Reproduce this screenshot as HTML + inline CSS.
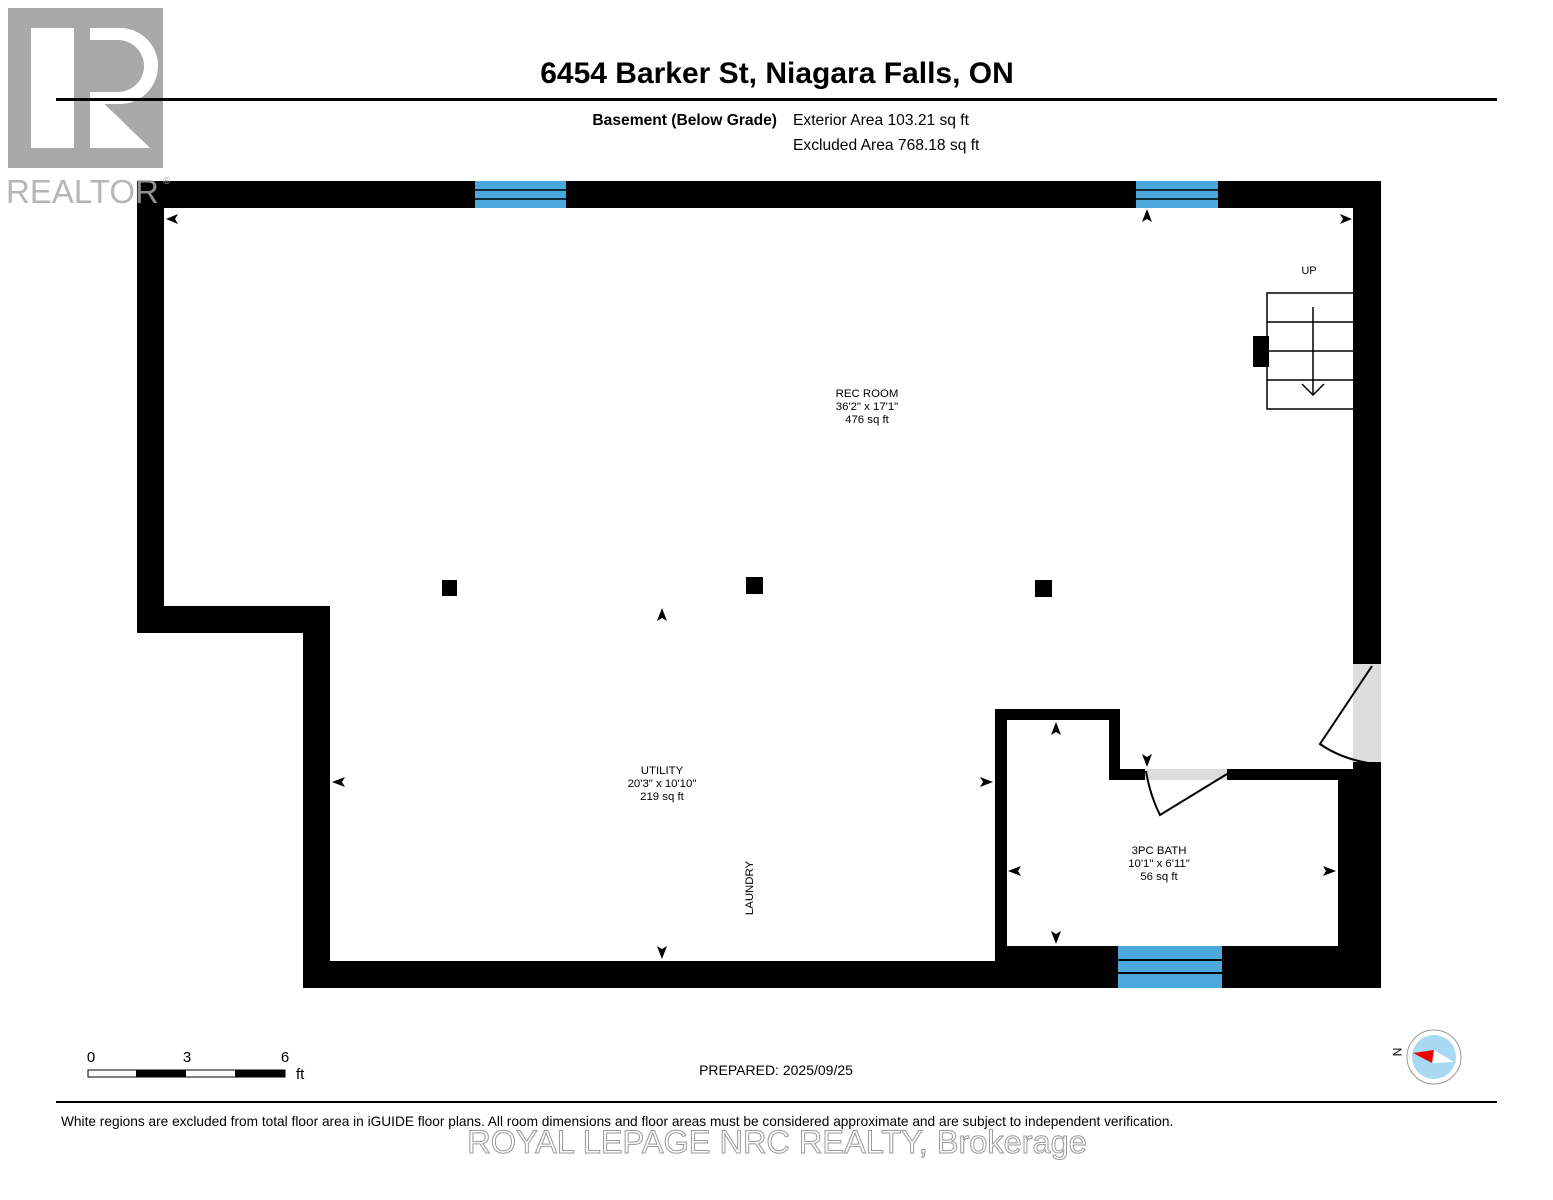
<!DOCTYPE html>
<html><head><meta charset="utf-8"><style>
html,body{margin:0;padding:0;background:#fff;}
svg{display:block;font-family:"Liberation Sans",Arial,sans-serif;}
</style></head><body>
<svg width="1553" height="1200" viewBox="0 0 1553 1200" xmlns="http://www.w3.org/2000/svg">
<rect width="1553" height="1200" fill="#fff"/>
<!-- Header -->
<text x="777" y="83" font-size="30" font-weight="bold" text-anchor="middle" fill="#000">6454 Barker St, Niagara Falls, ON</text>
<text x="777" y="125" font-size="15.6" font-weight="bold" text-anchor="end" fill="#000">Basement (Below Grade)</text>
<text x="793" y="125" font-size="15.6" fill="#000">Exterior Area 103.21 sq ft</text>
<text x="793" y="150" font-size="15.6" fill="#000">Excluded Area 768.18 sq ft</text>
<!-- walls -->
<g fill="#000">
<rect x="137" y="181" width="1244" height="27"/>
<rect x="137" y="181" width="27" height="452"/>
<rect x="137" y="606" width="193" height="27"/>
<rect x="303" y="606" width="27" height="382"/>
<rect x="303" y="961" width="1078" height="27"/>
<rect x="995" y="946" width="386" height="42"/>
<rect x="1353" y="181" width="28" height="483"/>
<rect x="1353" y="762" width="28" height="226"/>
<rect x="1338" y="780" width="43" height="208"/>
<rect x="995" y="709" width="12" height="252"/>
<rect x="995" y="709" width="125" height="11"/>
<rect x="1109" y="709" width="11" height="71"/>
<rect x="1109" y="769" width="36" height="11"/>
<rect x="1227" y="769" width="126" height="11"/>
<rect x="442" y="580" width="15" height="16"/>
<rect x="746" y="577" width="17" height="17"/>
<rect x="1035" y="580" width="17" height="17"/>
<rect x="1253" y="336" width="16" height="31"/>
</g>
<!-- doors -->
<rect x="1353" y="664" width="28" height="98" fill="#ddd"/>
<path d="M1372 666 L1320 744 Q1340 758 1368 763" fill="none" stroke="#000" stroke-width="2"/>
<rect x="1145" y="769" width="82" height="11" fill="#ddd"/>
<path d="M1227 774 L1160 815 Q1150 795 1146 771" fill="none" stroke="#000" stroke-width="2"/>
<!-- windows -->
<g>
<rect x="475" y="181" width="91" height="27" fill="#4aa8dc"/>
<line x1="475" y1="190" x2="566" y2="190" stroke="#000" stroke-width="1.5"/>
<line x1="475" y1="199" x2="566" y2="199" stroke="#000" stroke-width="1.5"/>
<rect x="1136" y="181" width="82" height="27" fill="#4aa8dc"/>
<line x1="1136" y1="190" x2="1218" y2="190" stroke="#000" stroke-width="1.5"/>
<line x1="1136" y1="199" x2="1218" y2="199" stroke="#000" stroke-width="1.5"/>
<rect x="1118" y="946" width="104" height="42" fill="#4aa8dc"/>
<line x1="1118" y1="960" x2="1222" y2="960" stroke="#000" stroke-width="2"/>
<line x1="1118" y1="973" x2="1222" y2="973" stroke="#000" stroke-width="2"/>
</g>
<!-- Realtor logo (drawn over walls) -->
<rect x="8" y="8" width="155" height="160" fill="#a9a9a9"/>
<rect x="31" y="28" width="43" height="120" fill="#fff"/>
<path d="M90 28 H120 A38 38 0 0 1 120 104 H90 Z" fill="#fff"/>
<path d="M90 90 L150 148 H90 Z" fill="#fff"/>
<path d="M90 40 H118 A26 26 0 0 1 118 92 H90 Z" fill="#a9a9a9"/>
<text x="6" y="203" font-size="33" fill="#a9a9a9" fill-opacity="0.85">REALTOR</text>
<text x="163" y="184" font-size="10" fill="#a9a9a9">®</text>
<rect x="56" y="98" width="1441" height="3" fill="#000"/>
<!-- stairs -->
<g fill="none" stroke="#000" stroke-width="1.5">
<path d="M1353 293 H1267 V409 H1353"/>
<line x1="1267" y1="322" x2="1353" y2="322"/>
<line x1="1267" y1="351" x2="1353" y2="351"/>
<line x1="1267" y1="380" x2="1353" y2="380"/>
<line x1="1313" y1="307" x2="1313" y2="395"/>
<path d="M1302 384 L1313 395 L1324 384"/>
</g>
<text x="1309" y="274" font-size="11" text-anchor="middle">UP</text>
<!-- arrowheads -->
<g fill="#000">
<path d="M166 219 L178 214 L175 219 L178 224 Z"/>
<path d="M1352 219 L1340 214 L1343 219 L1340 224 Z"/>
<path d="M1147 209 L1142 222 L1147 219 L1152 222 Z"/>
<path d="M662 608 L657 621 L662 618 L667 621 Z"/>
<path d="M662 959 L657 946 L662 949 L667 946 Z"/>
<path d="M332 782 L345 777 L342 782 L345 787 Z"/>
<path d="M993 782 L980 777 L983 782 L980 787 Z"/>
<path d="M1056 722 L1051 735 L1056 732 L1061 735 Z"/>
<path d="M1147 767 L1142 754 L1147 757 L1152 754 Z"/>
<path d="M1008 871 L1021 866 L1018 871 L1021 876 Z"/>
<path d="M1336 871 L1323 866 L1326 871 L1323 876 Z"/>
<path d="M1056 944 L1051 931 L1056 934 L1061 931 Z"/>
</g>
<!-- labels -->
<g font-size="11.4" text-anchor="middle" fill="#000">
<text x="867" y="397">REC ROOM</text>
<text x="867" y="410">36'2" x 17'1"</text>
<text x="867" y="423">476 sq ft</text>
<text x="662" y="774">UTILITY</text>
<text x="662" y="787">20'3" x 10'10"</text>
<text x="662" y="800">219 sq ft</text>
<text x="1159" y="854">3PC BATH</text>
<text x="1159" y="867">10'1" x 6'11"</text>
<text x="1159" y="880">56 sq ft</text>
<text transform="translate(753 888) rotate(-90)">LAUNDRY</text>
</g>
<!-- scale -->
<text x="91" y="1062" font-size="15" text-anchor="middle">0</text>
<text x="187" y="1062" font-size="15" text-anchor="middle">3</text>
<text x="285" y="1062" font-size="15" text-anchor="middle">6</text>
<text x="296" y="1079" font-size="15">ft</text>
<rect x="88" y="1070" width="197" height="7" fill="#fff" stroke="#000" stroke-width="1"/>
<rect x="136" y="1070" width="50" height="7" fill="#000"/>
<rect x="235" y="1070" width="50" height="7" fill="#000"/>
<text x="776" y="1075" font-size="14" text-anchor="middle">PREPARED: 2025/09/25</text>
<!-- compass -->
<circle cx="1434" cy="1057" r="27" fill="#fff" stroke="#999" stroke-width="1"/>
<circle cx="1434" cy="1057" r="22" fill="#a9d8f2"/>
<path d="M1413 1053 L1434 1050 L1454 1062 L1434 1063 Z" fill="#fff"/>
<path d="M1413 1053 L1434 1050 L1432 1063 Z" fill="#e00"/>
<text transform="translate(1393 1052) rotate(90)" font-size="12" text-anchor="middle">N</text>
<!-- footer -->
<rect x="56" y="1101" width="1441" height="2" fill="#000"/>
<text x="61" y="1126" font-size="13.7">White regions are excluded from total floor area in iGUIDE floor plans. All room dimensions and floor areas must be considered approximate and are subject to independent verification.</text>
<text x="777" y="1153" font-size="32.5" text-anchor="middle" fill="#fff" stroke="#999" stroke-width="1">ROYAL LEPAGE NRC REALTY, Brokerage</text>
</svg>
</body></html>
